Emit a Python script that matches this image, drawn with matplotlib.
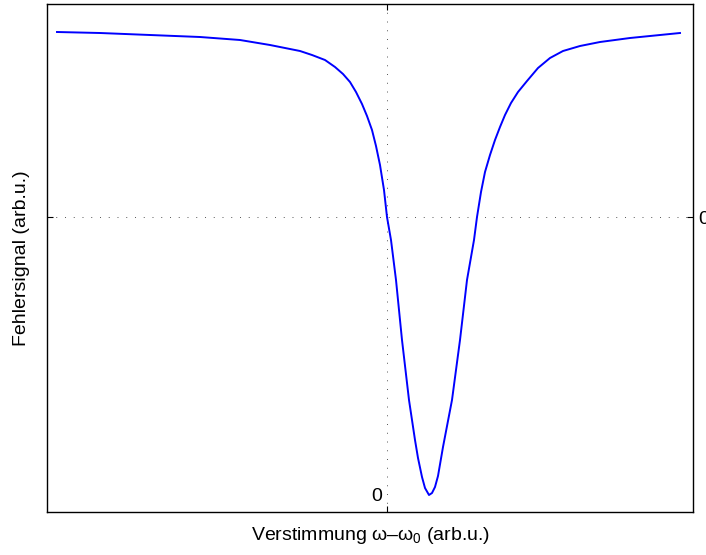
import matplotlib
matplotlib.use('Agg')
import matplotlib.pyplot as plt

plt.rcParams['font.family'] = ['Liberation Sans', 'DejaVu Sans']
plt.rcParams['mathtext.fontset'] = 'custom'
plt.rcParams['mathtext.rm'] = 'Liberation Sans'

# Error signal vs detuning (arbitrary units)
detuning = [-3.30, -2.87, -2.37, -1.87, -1.47, -1.17, -0.87, -0.75, -0.62, -0.52,
            -0.44, -0.37, -0.31, -0.25, -0.20, -0.15, -0.11, -0.07, -0.03, 0.00,
            0.04, 0.09, 0.15, 0.22, 0.28, 0.31, 0.35, 0.38, 0.42, 0.45,
            0.48, 0.51, 0.56, 0.65, 0.73, 0.80, 0.87, 0.90, 0.94, 0.98,
            1.03, 1.08, 1.13, 1.18, 1.24, 1.31, 1.40, 1.51, 1.63, 1.76,
            1.93, 2.13, 2.43, 2.63, 2.93]
signal = [1.85, 1.84, 1.82, 1.80, 1.77, 1.72, 1.66, 1.62, 1.57, 1.50,
          1.43, 1.35, 1.25, 1.13, 1.01, 0.87, 0.71, 0.52, 0.27, 0.00,
          -0.23, -0.63, -1.23, -1.83, -2.23, -2.41, -2.60, -2.71, -2.78, -2.76,
          -2.70, -2.59, -2.30, -1.83, -1.23, -0.63, -0.23, 0.00, 0.25, 0.45,
          0.62, 0.77, 0.90, 1.02, 1.14, 1.25, 1.36, 1.49, 1.59, 1.66,
          1.71, 1.75, 1.79, 1.81, 1.84]

fig = plt.figure(figsize=(7.06, 5.55), dpi=100)
ax = fig.add_axes([47 / 706, 1 - 512 / 555, 646 / 706, 508 / 555])

ax.plot(detuning, signal, color='#0000ff', linewidth=1.4)

ax.set_xlim(-3.40, 3.06)
ax.set_ylim(-2.95, 2.13)
ax.set_xticks([0])
ax.set_yticks([0])
ax.tick_params(direction='in', length=4, width=0.8, top=True, right=True,
               labelbottom=False, labelleft=False, labelright=True, pad=4,
               labelsize=14)
ax.set_yticklabels(['0'])
ax.grid(True, color='#555555', linestyle=(0, (1, 8)), linewidth=0.7)
for s in ax.spines.values():
    s.set_linewidth(1.0)

ax.text(-0.05, -2.80, '0', ha='right', va='center', fontsize=14)

ax.set_xlabel(r'Verstimmung ω–ω$_\mathregular{0}$ (arb.u.)', fontsize=14, labelpad=9)
ax.set_ylabel('Fehlersignal (arb.u.)', fontsize=14, labelpad=12)

fig.savefig('out.png', dpi=100)
